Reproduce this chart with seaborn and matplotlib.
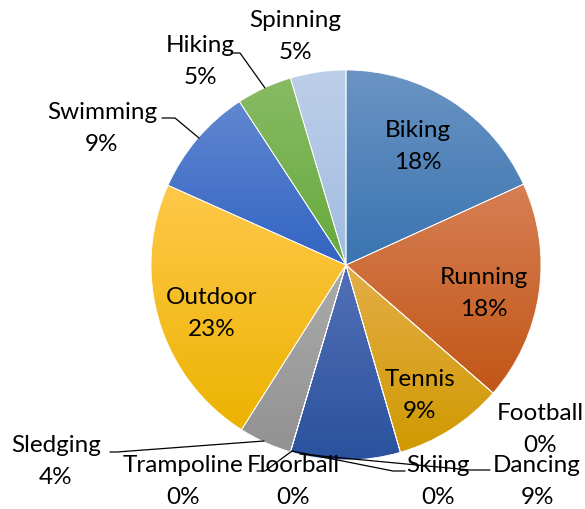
import numpy as np
import matplotlib
matplotlib.use("Agg")
import matplotlib.pyplot as plt
from matplotlib.colors import LinearSegmentedColormap
import seaborn as sns

# data
activities = ["Biking", "Running", "Football", "Tennis", "Skiing", "Dancing",
              "Floorball", "Trampoline", "Sledging", "Outdoor", "Swimming",
              "Hiking", "Spinning"]
shares = [18.2, 18.2, 0, 9.1, 0, 9.1, 0, 0, 4.4, 22.7, 9.1, 4.6, 4.6]

# Excel-like gradient per slice (top -> bottom)
top_colors = ["#6a94c3", "#d67f54", "#888888", "#e3ae48", "#888888", "#5370b6",
              "#888888", "#888888", "#ababab", "#ffc84a", "#6087d1",
              "#88bb64", "#bccfe9"]
bottom_colors = ["#3a74b1", "#c25616", "#888888", "#d09900", "#888888", "#2a529e",
                 "#888888", "#888888", "#929292", "#ecb300", "#3264c2",
                 "#66a93c", "#a1bbdf"]

# label centres in pixels from the top-left
label_pos = {
    "Biking": (418, 130), "Running": (484, 277), "Football": (540, 413),
    "Tennis": (420, 380), "Skiing": (438, 466), "Dancing": (537, 466),
    "Floorball": (293, 466), "Trampoline": (183, 466), "Sledging": (56, 445),
    "Outdoor": (212, 297), "Swimming": (102, 112), "Hiking": (200, 45),
    "Spinning": (295, 20),
}
leaders = {
    "Hiking": [(231, 53), (240, 53), (265, 88)],
    "Swimming": [(162, 118), (175, 118), (199, 138)],
    "Sledging": [(110, 452), (117, 452), (264, 441)],
    "Floorball": [(257, 471), (265, 471), (292, 451)],
    "Skiing": [(292, 451), (393, 471), (405, 471)],
    "Dancing": [(300, 454), (470, 470), (490, 470)],
}

W, H = 585, 509
cx, cy, r = 346, 265, 195

sns.set_theme(style="white")
plt.rcParams["font.family"] = ["Lato", "DejaVu Sans"]

fig = plt.figure(figsize=(W / 100, H / 100), dpi=100)
ax = fig.add_axes([0, 0, 1, 1])

wedges, _ = ax.pie(shares, startangle=90, counterclock=False,
                   center=(cx, H - cy), radius=r,
                   wedgeprops=dict(edgecolor="white", linewidth=0.6))

grad = np.linspace(0, 1, 256).reshape(-1, 1)
for w, v, c0, c1 in zip(wedges, shares, top_colors, bottom_colors):
    w.set_facecolor("none")
    w.set_zorder(3)
    if v == 0:
        continue
    ext = w.get_path().get_extents()
    cmap = LinearSegmentedColormap.from_list("g", [c0, c1])
    im = ax.imshow(grad, extent=[ext.x0, ext.x1, ext.y0, ext.y1], origin="upper",
                   cmap=cmap, aspect="auto", interpolation="bilinear", zorder=2)
    im.set_clip_path(w)

for name, v in zip(activities, shares):
    x, y = label_pos[name]
    ax.text(x, H - y, name, ha="center", va="center", fontsize=17.5, color="black", zorder=5)
    ax.text(x, H - y - 32, f"{v:.0f}%", ha="center", va="center", fontsize=17.5,
            color="black", zorder=5)

for name, pts in leaders.items():
    xs = [p[0] for p in pts]
    ys = [H - p[1] for p in pts]
    ax.plot(xs, ys, color="black", lw=0.9, zorder=4)

ax.set_xlim(0, W)
ax.set_ylim(0, H)
ax.set_aspect("equal")
ax.axis("off")

fig.savefig("out.png", dpi=100)
